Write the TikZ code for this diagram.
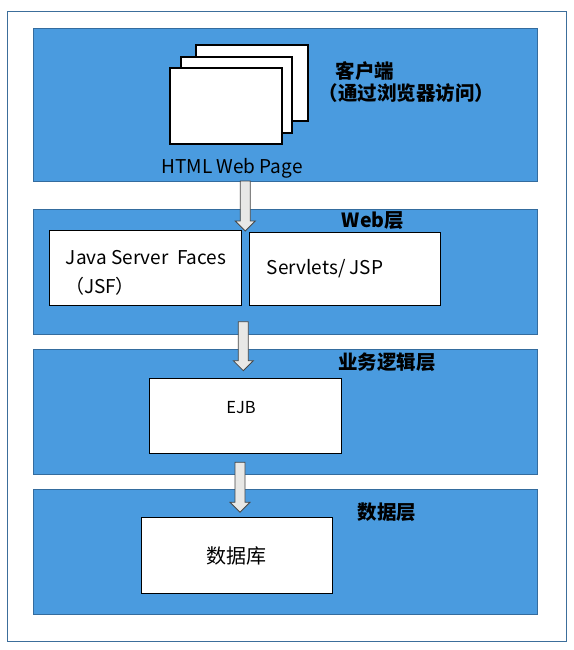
\documentclass[tikz,border=0pt]{standalone}
\usepackage{fontspec}
\setmainfont{Noto Sans CJK SC}
\usetikzlibrary{calc}
\definecolor{layerfill}{RGB}{74,155,223}
\definecolor{layerdraw}{RGB}{52,108,158}
\definecolor{framedraw}{RGB}{60,110,155}
\definecolor{arrowfill}{RGB}{232,232,230}
\definecolor{arrowdraw}{RGB}{70,70,70}
\newcommand\blockarrow[2]{%
  \draw[arrowstyle] let \p1=(#1), \p2=(#2) in
    (\x1-5pt,\y1) -- (\x1-5pt,\y2+10pt) -- (\x1-10pt,\y2+10pt) -- (\x1,\y2)
    -- (\x1+10pt,\y2+10pt) -- (\x1+5pt,\y2+10pt) -- (\x1+5pt,\y1) -- cycle;}
\begin{document}
\begin{tikzpicture}[x=1pt,y=-1pt,
  frame/.style={draw=framedraw,line width=1pt,fill=white,inner sep=0pt,outer sep=0pt},
  layer/.style={draw=layerdraw,line width=1pt,fill=layerfill,inner sep=0pt,outer sep=0pt,minimum width=504pt},
  wbox/.style={draw=black,line width=1.1pt,fill=white,inner sep=0pt,outer sep=0pt},
  page/.style={wbox,minimum width=112pt,minimum height=76pt},
  arrowstyle/.style={draw=arrowdraw,line width=0.8pt,fill=arrowfill,line join=miter},
  lbl/.style={inner sep=0pt,font=\fontsize{19}{23}\selectfont},
  title/.style={inner sep=0pt,font=\fontsize{19.5}{23}\selectfont\bfseries}]
\useasboundingbox (0,0) rectangle (573,650);
\fill[white] (0,0) rectangle (573,650);
\node[frame,minimum width=558.7pt,minimum height=629.7pt] (frame) at (286.65,326.15) {};
% layers
\node[layer,minimum height=152pt] (l1) at (285,105) {};
\node[layer,minimum height=125pt] (l2) at (285,271.5) {};
\node[layer,minimum height=125pt] (l3) at (285,411.5) {};
\node[layer,minimum height=125pt] (l4) at (285,551.5) {};
% pages
\node[page] (page3) at (252,83) {};
\node[page,minimum width=111pt] (page2) at (236.5,95) {};
\node[page] (page1) at (226,106) {};
\node[lbl] (html) at (232,168) {HTML Web Page};
\node[title] (client) at (365,70.7) {客户端};
\node[title] (browser) at (406.5,93.3) {（通过浏览器访问）};
% web layer
\node[title] (webt) at (373,220.7) {Web层};
\node[wbox,minimum width=192.4pt,minimum height=75pt] (jsf) at (145.5,267.8) {};
\node[lbl,anchor=west] (jsft) at (65.7,257.7) {Java Server\ \ Faces};
\node[lbl] (jsft2) at (100,286.7) {（JSF）};
\node[wbox,minimum width=191pt,minimum height=73pt] (srv) at (344.8,268.8) {};
\node[lbl] (srvt) at (325,268.3) {Servlets/ JSP};
% business layer
\node[title] (bizt) at (387,361.7) {业务逻辑层};
\node[wbox,minimum width=192.4pt,minimum height=75pt] (ejb) at (245.5,415.8) {};
\node[lbl,font=\fontsize{16.5}{20}\selectfont] (ejbt) at (241,408) {EJB};
% data layer
\node[title] (datat) at (387,511.7) {数据层};
\node[wbox,minimum width=191pt,minimum height=76pt] (db) at (236.8,555.3) {};
\node[lbl,font=\fontsize{20}{24}\selectfont] (dbt) at (236,555.7) {数据库};
% arrows
\coordinate (a1s) at (245.3,181);
\coordinate (a1t) at (245.3,231);
\coordinate (a2s) at (243.3,321.7);
\coordinate (a2t) at (243.3,370.7);
\coordinate (a3s) at (240,462.3);
\coordinate (a3t) at (240,512.3);
\blockarrow{a1s}{a1t}
\blockarrow{a2s}{a2t}
\blockarrow{a3s}{a3t}
\end{tikzpicture}
\end{document}
